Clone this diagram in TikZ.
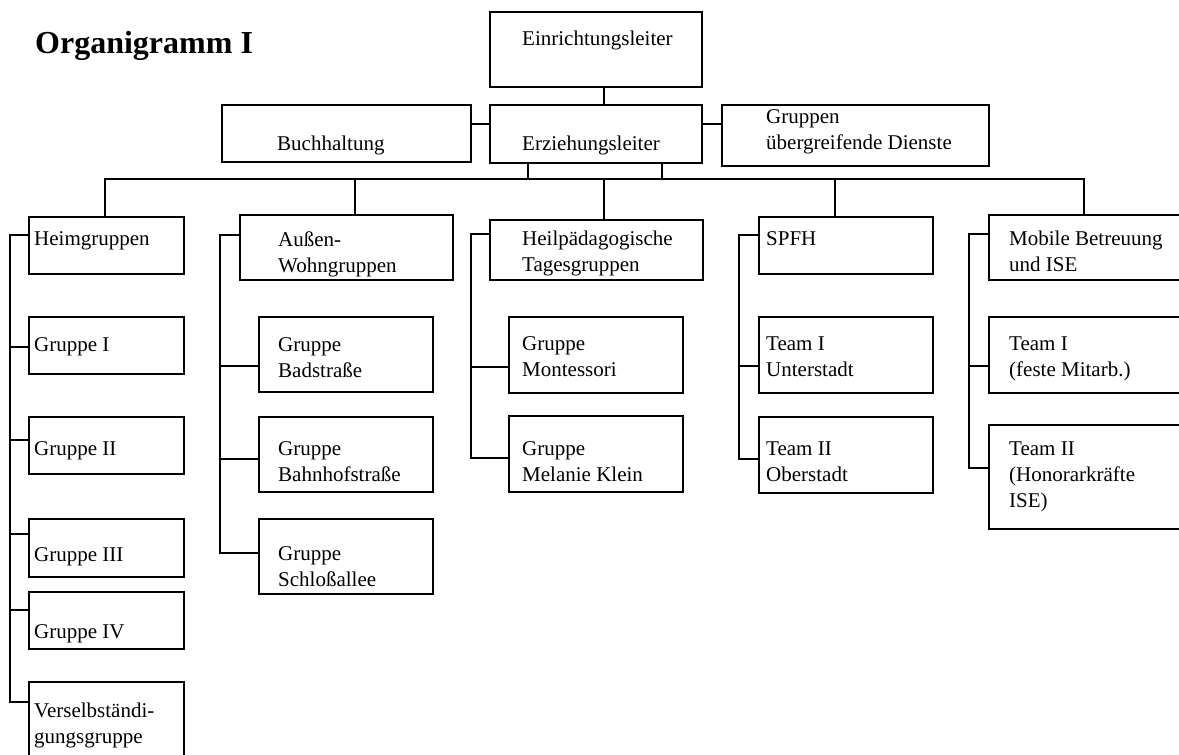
\documentclass[tikz,border=0pt]{standalone}
\usepackage{fontspec}
\setmainfont{Liberation Serif}
\newcommand\mlines[1]{\begin{tabular}[t]{@{}l@{}}#1\end{tabular}}
\begin{document}
\begin{tikzpicture}[x=1pt,y=-1pt,
  box/.style={draw, line width=1.6pt, inner sep=0pt, anchor=north west},
  lbl/.style={inner sep=0pt, anchor=base west, font=\fontsize{21}{26}\selectfont},
  con/.style={line width=1.6pt}]
\useasboundingbox (0,0) rectangle (1179,755);
\clip (0,0) rectangle (1179,755);
\newcommand\bx[5]{\node[box, minimum width=#4-#2, minimum height=#5-#3] (#1) at (#2,#3) {};}
% boxes
\bx{einr}{489}{11}{701}{86}
\bx{buch}{221}{104}{470}{161}
\bx{erz}{489}{104}{701}{162}
\bx{gue}{721}{104}{988}{165}
\bx{heim}{28}{216}{183}{273}
\bx{g1}{28}{316}{183}{373}
\bx{g2}{28}{416}{183}{473}
\bx{g3}{28}{518}{183}{576}
\bx{g4}{28}{591}{183}{648}
\bx{vers}{28}{681}{183}{770}
\bx{aus}{239}{214}{452}{279}
\bx{bad}{258}{316}{432}{391}
\bx{bahn}{258}{416}{432}{491}
\bx{schl}{258}{518}{432}{593}
\bx{heil}{489}{219}{702}{279}
\bx{mont}{508}{316}{682}{392}
\bx{mel}{508}{415}{682}{491}
\bx{spfh}{758}{216}{932}{273}
\bx{tu}{758}{316}{932}{392}
\bx{to}{758}{416}{932}{492}
\bx{mob}{988}{214}{1195}{279}
\bx{tf}{988}{316}{1195}{392}
\bx{th}{988}{424}{1195}{528}
% texts
\node[inner sep=0pt, anchor=base west, font=\bfseries\fontsize{32}{36}\selectfont] (title) at (35,53) {Organigramm I};
\node[lbl] (l-einr) at (522,45) {Einrichtungsleiter};
\node[lbl] (l-buch) at (277,150) {Buchhaltung};
\node[lbl] (l-erz) at (522,150) {Erziehungsleiter};
\node[lbl] (l-gue) at (766,123) {\mlines{Gruppen\\übergreifende Dienste}};
\node[lbl] (l-heim) at (34,245) {Heimgruppen};
\node[lbl] (l-g1) at (34,351) {Gruppe I};
\node[lbl] (l-g2) at (34,455) {Gruppe II};
\node[lbl] (l-g3) at (34,561) {Gruppe III};
\node[lbl] (l-g4) at (34,638) {Gruppe IV};
\node[lbl] (l-vers) at (34,717) {\mlines{Verselbständi-\\gungsgruppe}};
\node[lbl] (l-aus) at (278,246) {\mlines{Außen-\\Wohngruppen}};
\node[lbl] (l-bad) at (278,351) {\mlines{Gruppe\\Badstraße}};
\node[lbl] (l-bahn) at (278,455) {\mlines{Gruppe\\Bahnhofstraße}};
\node[lbl] (l-schl) at (278,560) {\mlines{Gruppe\\Schloßallee}};
\node[lbl] (l-heil) at (522,245) {\mlines{Heilpädagogische\\Tagesgruppen}};
\node[lbl] (l-mont) at (522,350) {\mlines{Gruppe\\Montessori}};
\node[lbl] (l-mel) at (522,455) {\mlines{Gruppe\\Melanie Klein}};
\node[lbl] (l-spfh) at (766,245) {SPFH};
\node[lbl] (l-tu) at (766,350) {\mlines{Team I\\Unterstadt}};
\node[lbl] (l-to) at (766,455) {\mlines{Team II\\Oberstadt}};
\node[lbl] (l-mob) at (1009,245) {\mlines{Mobile Betreuung\\und ISE}};
\node[lbl] (l-tf) at (1009,350) {\mlines{Team I\\(feste Mitarb.)}};
\node[lbl] (l-th) at (1009,455) {\mlines{Team II\\(Honorarkräfte\\ISE)}};
% helper coordinates
\coordinate (cx1) at (604,0);
\coordinate (r1) at (0,124);
\coordinate (e1) at (528,0);
\coordinate (e2) at (662,0);
\coordinate (busL) at (105,179);
\coordinate (busR) at (1084,179);
\coordinate (dA) at (355,179);
\coordinate (dH) at (604,179);
\coordinate (dS) at (835,179);
% top connectors
\draw[con] (einr.south -| cx1) -- (erz.north -| cx1);
\draw[con] (buch.east |- r1) -- (erz.west |- r1);
\draw[con] (erz.east |- r1) -- (gue.west |- r1);
\draw[con] (erz.south -| e1) -- (busL -| e1);
\draw[con] (erz.south -| e2) -- (busL -| e2);
\draw[con, line join=miter] (heim.north -| busL) -- (busL) -- (busR) -- (mob.north -| busR);
\draw[con] (dA) -- (aus.north -| dA);
\draw[con] (dH) -- (heil.north -| dH);
\draw[con] (dS) -- (spfh.north -| dS);
% spine Heimgruppen
\coordinate (h0) at (10,235); \coordinate (h1) at (10,347); \coordinate (h2) at (10,440);
\coordinate (h3) at (10,534); \coordinate (h4) at (10,610); \coordinate (h5) at (10,702);
\draw[con, line join=miter] (heim.west |- h0) -- (h0) -- (h5) -- (vers.west |- h5);
\draw[con] (h1) -- (g1.west |- h1);
\draw[con] (h2) -- (g2.west |- h2);
\draw[con] (h3) -- (g3.west |- h3);
\draw[con] (h4) -- (g4.west |- h4);
% spine Aussen
\coordinate (a0) at (220,235); \coordinate (a1) at (220,366); \coordinate (a2) at (220,459); \coordinate (a3) at (220,553);
\draw[con, line join=miter] (aus.west |- a0) -- (a0) -- (a3) -- (schl.west |- a3);
\draw[con] (a1) -- (bad.west |- a1);
\draw[con] (a2) -- (bahn.west |- a2);
% spine Heilpaed
\coordinate (p0) at (471,234); \coordinate (p1) at (471,367); \coordinate (p2) at (471,458);
\draw[con, line join=miter] (heil.west |- p0) -- (p0) -- (p2) -- (mel.west |- p2);
\draw[con] (p1) -- (mont.west |- p1);
% spine SPFH
\coordinate (s0) at (739,235); \coordinate (s1) at (739,366); \coordinate (s2) at (739,459);
\draw[con, line join=miter] (spfh.west |- s0) -- (s0) -- (s2) -- (to.west |- s2);
\draw[con] (s1) -- (tu.west |- s1);
% spine Mobile
\coordinate (m0) at (969,234); \coordinate (m1) at (969,366); \coordinate (m2) at (969,468);
\draw[con, line join=miter] (mob.west |- m0) -- (m0) -- (m2) -- (th.west |- m2);
\draw[con] (m1) -- (tf.west |- m1);
\end{tikzpicture}
\end{document}
